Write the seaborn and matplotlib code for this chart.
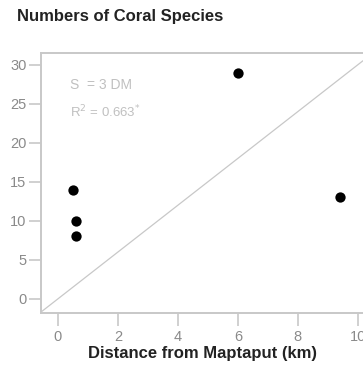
import matplotlib
matplotlib.use("Agg")
import matplotlib.pyplot as plt
import seaborn as sns
import numpy as np
import pandas as pd

distance_km = [0.5, 0.6, 0.6, 6.0, 9.4]
species = [14, 10, 8, 29, 13]
xticks = [0, 2, 4, 6, 8, 10]
yticks = [0, 5, 10, 15, 20, 25, 30]
line_slope = 3

sns.set_style("white")
plt.rcParams['font.family'] = ['Liberation Sans', 'DejaVu Sans']

df = pd.DataFrame({"d": distance_km, "s": species})

fig = plt.figure(figsize=(3.63, 3.65), dpi=100)
ax = fig.add_axes([0.113, 0.1425, 0.887, 0.7123])

xlim = (-0.56, 10.17)
ylim = (-1.8, 31.5)
lx = np.array(xlim)
ax.plot(lx, line_slope * lx, color="#c8c8c8", lw=0.9, zorder=1)

sns.scatterplot(data=df, x="d", y="s", ax=ax, color="black", s=55,
                edgecolor="black", linewidth=0, zorder=3, legend=False)

ax.set_xlim(*xlim)
ax.set_ylim(*ylim)
ax.set_xticks(xticks)
ax.set_yticks(yticks)
ax.set_xticklabels([str(t) for t in xticks])
ax.set_yticklabels([str(t) for t in yticks])

spine_c = "#c8c8c8"
for side in ["left", "bottom", "top"]:
    ax.spines[side].set_color(spine_c)
    ax.spines[side].set_linewidth(1.4)
ax.spines["right"].set_visible(False)

ax.tick_params(axis="both", direction="out", length=9, width=1.2,
               color=spine_c, labelcolor="#8a8a8a", labelsize=10.5,
               bottom=True, left=True, top=False, right=False)
ax.tick_params(axis="x", pad=3)
ax.tick_params(axis="y", pad=1.5)

ax.set_xlabel("Distance from Maptaput (km)", fontsize=12, fontweight="bold",
              color="#222222", labelpad=2)
ax.set_ylabel("")

ax.text(0.4, 27.4, "S  = 3 DM", fontsize=10, color="#c0c0c0", va="center")
ax.text(0.4, 23.9, "R$^{2}$ = 0.663$^{*}$", fontsize=9.5, color="#c0c0c0", va="center")

fig.text(17 / 363, 1 - 17 / 365, "Numbers of Coral Species", fontsize=12,
         fontweight="bold", color="#222222", va="center", ha="left")

fig.savefig("out.png", dpi=100)
